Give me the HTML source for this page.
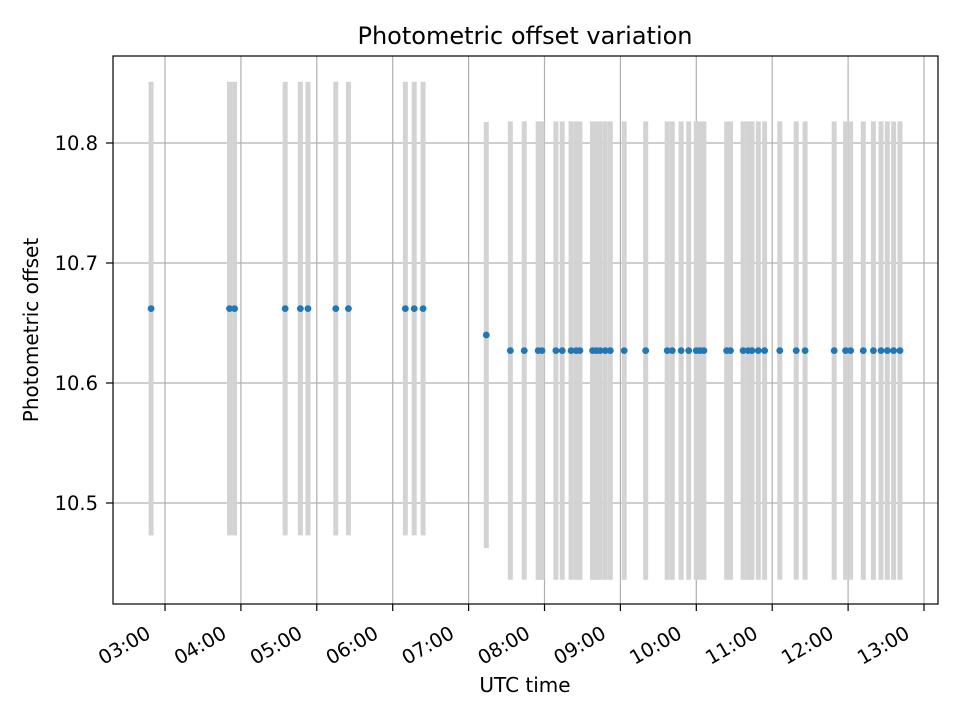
<!DOCTYPE html>
<html><head><meta charset="utf-8"><style>
body{margin:0;background:#fff}
svg{display:block;font-family:"DejaVu Sans","Liberation Sans",sans-serif}
</style></head><body>
<svg id="chart" width="960" height="720" viewBox="0 0 960 720">
<rect width="960" height="720" fill="#fff"/>
<text x="525" y="44" style="font-size:24px" text-anchor="middle">Photometric offset variation</text>
<text x="525" y="692" style="font-size:20px" text-anchor="middle">UTC time</text>
<text transform="translate(38,330) rotate(-90)" style="font-size:20px" text-anchor="middle">Photometric offset</text>
<g id="grid"></g><g id="bars"></g><g id="pts"></g><g id="axes"></g>
</svg>
<script>
const times=["02:49","03:51","03:55","04:35","04:47","04:53","05:15","05:25","06:10","06:17","06:24","07:14","07:33","07:44","07:55","07:58","08:09","08:14","08:21","08:25","08:28","08:38","08:41","08:44","08:48","08:52","09:03","09:20","09:37","09:41","09:48","09:54","10:00","10:03","10:06","10:24","10:27","10:37","10:41","10:44","10:49","10:54","11:06","11:19","11:26","11:49","11:58","12:02","12:12","12:20","12:26","12:31","12:36","12:41"];
const offsets=[10.662,10.662,10.662,10.662,10.662,10.662,10.662,10.662,10.662,10.662,10.662,10.64].concat(Array(42).fill(10.627));
const errors=[0.189,0.189,0.189,0.189,0.189,0.189,0.189,0.189,0.189,0.189,0.189,0.1775].concat(Array(42).fill(0.191));
const yTicks=[10.5,10.6,10.7,10.8];
const xTickLabels=["03:00","04:00","05:00","06:00","07:00","08:00","09:00","10:00","11:00","12:00","13:00"];
const NS="http://www.w3.org/2000/svg";
const L=113,R=938,T=56,B=604;
function toMin(s){const p=s.split(":");return (+p[0])*60+(+p[1]);}
function xs(m){return 165+(m-180)*75.9/60;}
function ys(v){return 143-(v-10.8)*1200;}
function mk(tag,attrs,parent){const e=document.createElementNS(NS,tag);for(const k in attrs)e.setAttribute(k,attrs[k]);document.getElementById(parent).appendChild(e);return e;}
yTicks.forEach(v=>{
  const y=ys(v);
  const g=mk("line",{x1:L,x2:R,y1:y,y2:y,stroke:"#b0b0b0","stroke-width":1.2},"grid");
  
  
  mk("line",{x1:L-7,x2:L,y1:y,y2:y,stroke:"#000","stroke-width":1.2},"axes");
  const t=mk("text",{x:L-15,y:y+7,style:"font-size:19.5px","text-anchor":"end"},"axes");
  t.textContent=v.toFixed(1);
  
  
});
xTickLabels.forEach(s=>{
  const x=xs(toMin(s));
  const g=mk("line",{x1:x,x2:x,y1:T,y2:B,stroke:"#b0b0b0","stroke-width":1.2},"grid");
  
  
  mk("line",{x1:x,x2:x,y1:B,y2:B+7,stroke:"#000","stroke-width":1.2},"axes");
  const ax=x-13, ay=637;
  const t=mk("text",{x:ax,y:ay,style:"font-size:19.5px","text-anchor":"end",transform:`rotate(-30 ${ax} ${ay})`},"axes");
  t.textContent=s;
  
  
});
times.forEach((s,i)=>{
  const x=xs(toMin(s));
  const b=mk("rect",{x:x-2.5,width:5,y:ys(offsets[i]+errors[i]),height:ys(offsets[i]-errors[i])-ys(offsets[i]+errors[i]),fill:"#d3d3d3"},"bars");
  
  
});
times.forEach((s,i)=>{
  const c=mk("circle",{cx:xs(toMin(s)),cy:ys(offsets[i]),r:3.4,fill:"#1f77b4"},"pts");
  
  
});
const f=mk("rect",{x:L,y:T,width:R-L,height:B-T,fill:"none",stroke:"#000","stroke-width":1.2},"axes");


</script>
</body></html>
